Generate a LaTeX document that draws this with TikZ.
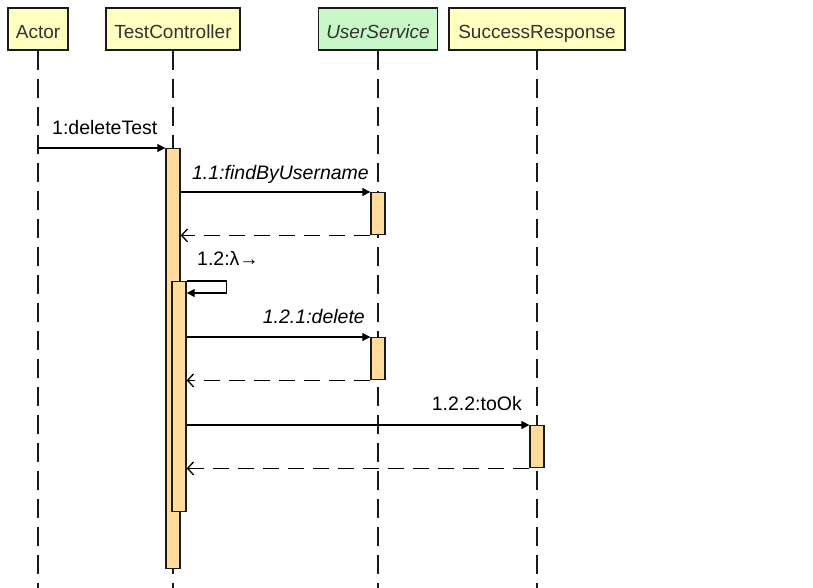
\documentclass[tikz,border=0pt]{standalone}
\usepackage{fontspec}
\setmainfont{Liberation Sans}
\usetikzlibrary{arrows.meta}
\definecolor{hdr}{HTML}{FFFFC0}
\definecolor{hdrg}{HTML}{C8F8C8}
\definecolor{act}{HTML}{FFDC9C}
\definecolor{ink}{HTML}{1A1A1A}
\definecolor{txt}{HTML}{333333}
\begin{document}
\begin{tikzpicture}[x=1pt,y=-1pt,
 head/.style={draw=ink, line width=1.5pt, fill=hdr, minimum height=42pt, inner sep=0pt, text height=20pt, text depth=0pt, font=\fontsize{19}{22}\selectfont, text=txt},
 life/.style={draw=ink, line width=1.5pt, dash pattern=on 19pt off 9pt},
 actbox/.style={draw=ink, line width=1.4pt, fill=act, minimum width=14pt, inner sep=0pt, anchor=north},
 msg/.style={draw=black, line width=1.3pt, -{Triangle[length=8pt,width=8pt]}},
 ret/.style={draw=black, line width=1.3pt, dash pattern=on 16pt off 9pt, -{Straight Barb[length=6pt,width=13pt]}},
 lbl/.style={font=\fontsize{19.5}{22}\selectfont, inner sep=0pt, text=black}
]
\useasboundingbox (0,0) rectangle (813,588);
% headers
\node[head, minimum width=60pt] (actor) at (38,29) {Actor};
\node[head, minimum width=134pt] (tc) at (173,29) {TestController};
\node[head, minimum width=119pt, fill=hdrg] (us) at (378,29) {\itshape UserService};
\node[head, minimum width=176pt] (sr) at (537,29) {SuccessResponse};
% lifeline ends
\coordinate (actorEnd) at (38,588);
\coordinate (tcEnd) at (173,588);
\coordinate (usEnd) at (378,588);
\coordinate (srEnd) at (537,588);
\draw[life] (actor.south) -- (actorEnd);
\draw[life] (tc.south) -- (tcEnd);
\draw[life] (us.south) -- (usEnd);
\draw[life] (sr.south) -- (srEnd);
% activations
\node[actbox, minimum height=420pt] (a0) at (173,148) {};
\node[actbox, minimum height=230pt] (a1) at (179,281) {};
\node[actbox, minimum height=42pt] (u1) at (378,192) {};
\node[actbox, minimum height=42pt] (u2) at (378,337) {};
\node[actbox, minimum height=42pt] (s1) at (537,425) {};
% messages
\draw[msg] (a0.north west -| actor.south) -- (a0.north west);
\node[lbl, anchor=base west] (l1) at (52,135) {1:deleteTest};
\draw[msg] (u1.north west -| a0.east) -- (u1.north west);
\node[lbl, anchor=base east] (l2) at (369,179) {\itshape 1.1:findByUsername};
\draw[ret] (u1.south west) -- (u1.south west -| a0.east);
\draw[msg] (a1.north east) -- ++(40,0) -- ++(0,12) -- ++(-40,0);
\node[lbl, anchor=base west] (l3) at (197,265) {1.2:λ→};
\draw[msg] (u2.north west -| a1.east) -- (u2.north west);
\node[lbl, anchor=base east] (l4) at (365,323) {\itshape 1.2.1:delete};
\draw[ret] (u2.south west) -- (u2.south west -| a1.east);
\draw[msg] (s1.north west -| a1.east) -- (s1.north west);
\node[lbl, anchor=base east] (l5) at (522,410) {1.2.2:toOk};
\draw[ret] (s1.south west) -- (s1.south west -| a1.east);
\end{tikzpicture}
\end{document}
